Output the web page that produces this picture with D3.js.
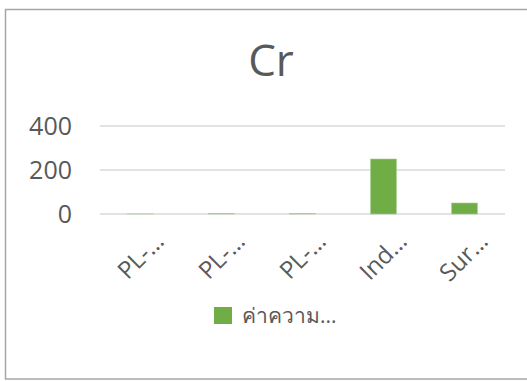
<!DOCTYPE html>
<html>
<head>
<meta charset="utf-8">
<script src="https://cdn.jsdelivr.net/npm/d3@7/dist/d3.min.js"></script>
<style>
  html, body { margin: 0; padding: 0; background: #fff; }
  svg { display: block; }
  text { font-family: "Open Sans", "Noto Sans", sans-serif; fill: #595959; }
</style>
</head>
<body>
<svg id="chart" width="527" height="381"></svg>
<script>
// Chromium concentration by sampling point
const categories = ["PL-…", "PL-…", "PL-…", "Ind…", "Sur…"];
const values = [0.3, 2, 2, 250, 50];
const yTicks = [0, 200, 400];
const title = "Cr";
const seriesName = "ค่าความ...";

const plot = { left: 100, right: 505, top: 126, bottom: 214 };
const green = "#70ad47";

const svg = d3.select("#chart");

// outer chart frame
svg.append("rect")
  .attr("x", 5.5).attr("y", 9.5)
  .attr("width", 540).attr("height", 369.5)
  .attr("fill", "#fff")
  .attr("stroke", "#a6a6a6")
  .attr("stroke-width", 1.5);

const x = d3.scaleBand()
  .domain(d3.range(categories.length))
  .range([plot.left, plot.right])
  .paddingInner(0.68)
  .paddingOuter(0.34);

const y = d3.scaleLinear()
  .domain([0, 400])
  .range([plot.bottom, plot.top]);

// horizontal gridlines
svg.append("g")
  .selectAll("line")
  .data(yTicks)
  .join("line")
  .attr("x1", plot.left).attr("x2", plot.right)
  .attr("y1", d => y(d)).attr("y2", d => y(d))
  .attr("stroke", "#d9d9d9")
  .attr("stroke-width", 1.5);

// y axis labels
const yAxis = d3.axisLeft(y).tickValues(yTicks).tickSize(0).tickPadding(0);
const gy = svg.append("g")
  .attr("transform", `translate(${72},0)`)
  .call(yAxis);
gy.select(".domain").remove();
gy.selectAll("text")
  .attr("font-size", 25)
  .attr("fill", "#595959")
  .attr("font-family", "'Open Sans', 'Noto Sans', sans-serif");

// bars
svg.append("g")
  .selectAll("rect")
  .data(values)
  .join("rect")
  .attr("x", (d, i) => x(i))
  .attr("width", x.bandwidth())
  .attr("y", d => y(d))
  .attr("height", d => y(0) - y(d))
  .attr("fill", green)
  .attr("stroke", "#a9d18e")
  .attr("stroke-width", 0.6);

// category labels, rotated
const xAxis = d3.axisBottom(x).tickFormat(i => categories[i]).tickSize(0).tickPadding(0);
const gx = svg.append("g")
  .attr("transform", `translate(0,${plot.bottom})`)
  .call(xAxis);
gx.select(".domain").remove();
gx.selectAll("text")
  .attr("font-size", 24)
  .attr("fill", "#595959")
  .attr("font-family", "'Open Sans', 'Noto Sans', sans-serif")
  .attr("text-anchor", "end")
  .attr("dy", "0.7em")
  .attr("transform", "translate(13,17) rotate(-45)");

// title
svg.append("text")
  .attr("x", 271).attr("y", 76)
  .attr("text-anchor", "middle")
  .attr("font-size", 44)
  .text(title);

// legend
const lg = svg.append("g").attr("transform", "translate(214,307)");
lg.append("rect").attr("width", 18).attr("height", 17).attr("fill", green);
lg.append("text")
  .attr("x", 28).attr("y", 16)
  .attr("font-size", 21)
  .text(seriesName);
</script>
</body>
</html>
